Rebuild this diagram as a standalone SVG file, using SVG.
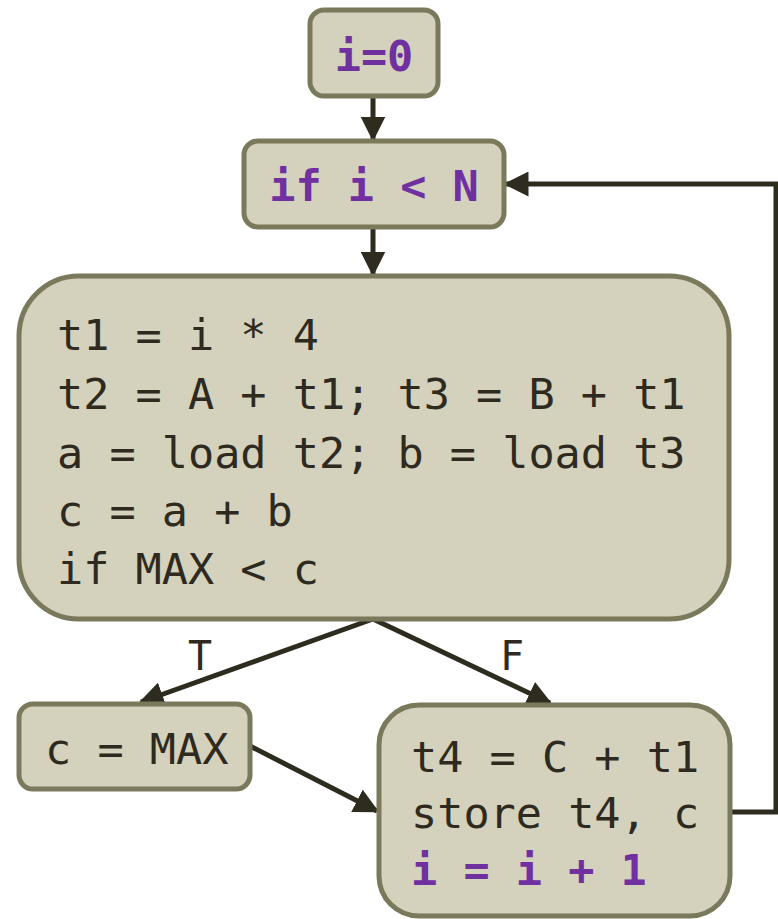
<svg xmlns="http://www.w3.org/2000/svg" width="778" height="919" viewBox="0 0 778 919">
<defs>
<marker id="ah" viewBox="0 0 10 10" refX="9" refY="5" markerWidth="5" markerHeight="5" orient="auto" markerUnits="strokeWidth">
<path d="M0,0 L10,5 L0,10 z" fill="#2e2b1f"/>
</marker>
<style>
.box{fill:#d4d1bc;stroke:#7b795b;stroke-width:5}
.code{font-family:"DejaVu Sans Mono","Liberation Mono",monospace;font-size:43.5px;fill:#2e2a20}
.hl{font-family:"DejaVu Sans Mono","Liberation Mono",monospace;font-size:43.5px;font-weight:bold;fill:#7030a0}
.lbl{font-family:"DejaVu Sans Mono","Liberation Mono",monospace;font-size:40px;fill:#2e2a20}
.edge{fill:none;stroke:#2e2b1f;stroke-width:5;marker-end:url(#ah)}
</style>
</defs>
<rect width="778" height="919" fill="#ffffff"/>
<g id="connectors">
<line class="edge" x1="373" y1="96" x2="373" y2="139"/>
<line class="edge" x1="373" y1="227" x2="373" y2="274"/>
<line class="edge" x1="373" y1="619" x2="141" y2="702"/>
<line class="edge" x1="373" y1="619" x2="550" y2="703"/>
<line class="edge" x1="250" y1="746" x2="377" y2="811"/>
<polyline class="edge" points="731,812 776,812 776,184 506,184"/>
<text class="lbl" x="200" y="670" text-anchor="middle">T</text>
<text class="lbl" x="512" y="670" text-anchor="middle">F</text>
</g>
<g id="n-init">
<rect class="box" x="310" y="10" width="128" height="86" rx="14"/>
<text class="hl" x="374" y="71" text-anchor="middle">i=0</text>
</g>
<g id="n-cond">
<rect class="box" x="244" y="141" width="260" height="86" rx="14"/>
<text class="hl" x="374" y="201" text-anchor="middle">if i &lt; N</text>
</g>
<g id="n-body">
<rect class="box" x="19" y="276" width="710" height="343" rx="60"/>
<text class="code" x="57" y="350">t1 = i * 4</text>
<text class="code" x="57" y="409">t2 = A + t1; t3 = B + t1</text>
<text class="code" x="57" y="468">a = load t2; b = load t3</text>
<text class="code" x="57" y="526">c = a + b</text>
<text class="code" x="57" y="584">if MAX &lt; c</text>
</g>
<g id="n-max">
<rect class="box" x="19" y="704" width="231" height="85" rx="14"/>
<text class="code" x="45" y="764">c = MAX</text>
</g>
<g id="n-store">
<rect class="box" x="379" y="705" width="351" height="211" rx="40"/>
<text class="code" x="411" y="772">t4 = C + t1</text>
<text class="code" x="411" y="828">store t4, c</text>
<text class="hl" x="411" y="885">i = i + 1</text>
</g>
</svg>
